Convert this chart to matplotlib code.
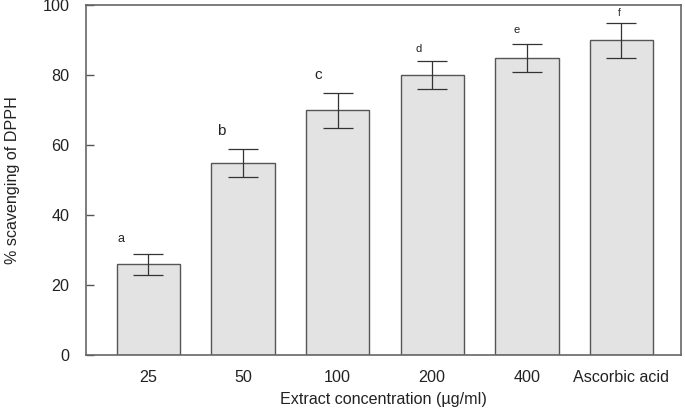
import matplotlib
matplotlib.use("Agg")
import matplotlib.pyplot as plt

plt.rcParams['font.family'] = ['Liberation Sans', 'DejaVu Sans']

categories = ["25", "50", "100", "200", "400", "Ascorbic acid"]
values = [26, 55, 70, 80, 85, 90]
errors = [3, 4, 5, 4, 4, 5]
letters = ["a", "b", "c", "d", "e", "f"]
letter_sizes = [9, 11, 11, 8, 8, 7]
letter_dx = [-0.29, -0.23, -0.21, -0.14, -0.11, -0.02]
letter_y = [33, 64, 80, 87.5, 92.8, 97.6]

FS = 11.6

fig = plt.figure(figsize=(6.85, 4.09), dpi=100)
ax = fig.add_axes([86/685, 1-355/409, (681-86)/685, 350/409])

x = list(range(len(categories)))
ax.bar(x, values, width=0.67, color='#e3e3e3', edgecolor='#555555', linewidth=1.0, zorder=2)
ax.errorbar(x, values, yerr=errors, fmt='none', ecolor='#333333', elinewidth=0.9,
            capsize=11, capthick=0.9, zorder=3)
for xi, l, s, dx, yy in zip(x, letters, letter_sizes, letter_dx, letter_y):
    ax.text(xi + dx, yy, l, ha='center', va='center', fontsize=s, color='#222222')

ax.set_xlim(-0.66, 5.63)
ax.set_ylim(0, 100)
ax.set_xticks(x)
ax.set_xticklabels(categories)
ax.set_yticks([0, 20, 40, 60, 80, 100])
ax.tick_params(axis='x', length=0, pad=11, labelsize=FS, colors='#222222')
ax.tick_params(axis='y', direction='in', length=6, width=1, color='#555555', pad=12,
               labelsize=FS, labelcolor='#222222')
for sp in ax.spines.values():
    sp.set_color('#666666')
    sp.set_linewidth(1.2)
ax.set_xlabel("Extract concentration (µg/ml)", fontsize=FS, color='#222222', labelpad=5)
ax.set_ylabel("% scavenging of DPPH", fontsize=FS, color='#222222', labelpad=16)

fig.savefig("out.png", dpi=100)
